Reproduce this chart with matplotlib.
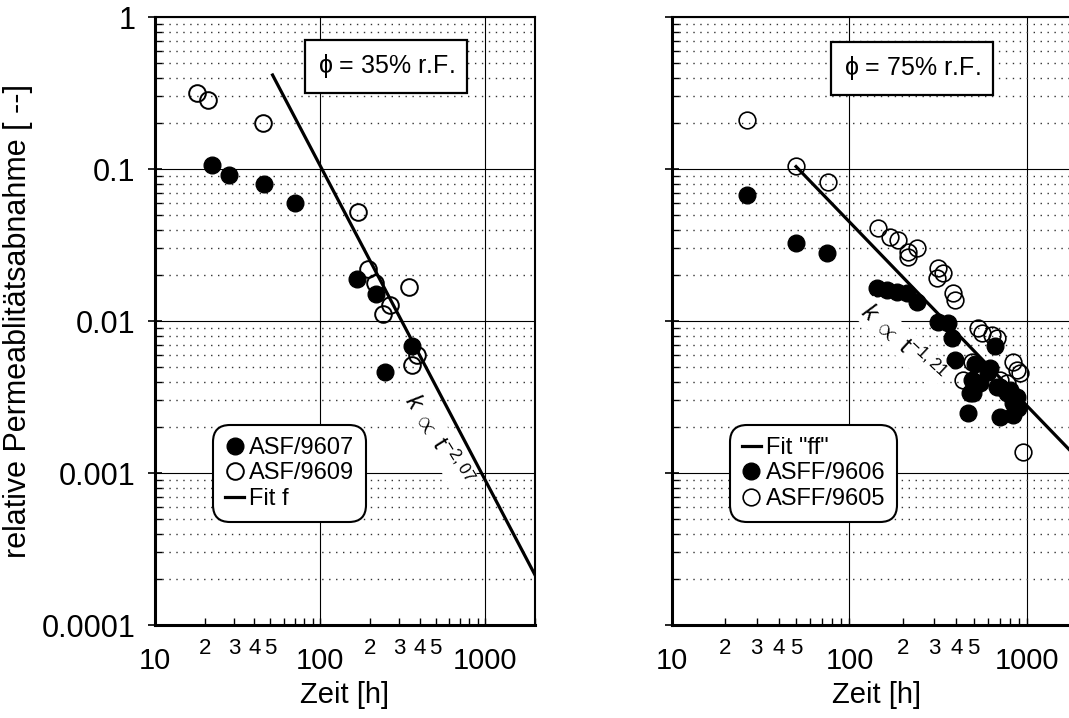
import numpy as np
import matplotlib
matplotlib.use("Agg")
import matplotlib.pyplot as plt
from matplotlib.lines import Line2D

plt.rcParams['font.family'] = ['Liberation Sans', 'DejaVu Sans']
plt.rcParams['mathtext.fontset'] = 'custom'
plt.rcParams['mathtext.rm'] = 'Liberation Sans'
plt.rcParams['mathtext.it'] = 'Liberation Sans:italic'

# --- data (Zeit [h], relative Permeabilitaetsabnahme) ---
asf9607_t = [22, 28, 46, 70, 166, 219, 247, 359]
asf9607_k = [0.106, 0.092, 0.080, 0.060, 0.019, 0.015, 0.0046, 0.0069]

asf9609_t = [18, 21, 45, 170, 195, 214, 241, 265, 343, 359, 385]
asf9609_k = [0.315, 0.284, 0.200, 0.052, 0.022, 0.0178, 0.0112, 0.0127, 0.0168, 0.0051, 0.0060]

asff9606_t = [26.5, 50, 74.5, 142, 162, 185, 210, 239, 317, 360, 377, 393, 466, 478,
              488, 497, 509, 544, 605, 620, 660, 674, 705, 705, 769, 802, 837, 837, 873, 890]
asff9606_k = [0.0675, 0.0324, 0.0281, 0.0164, 0.0160, 0.0156, 0.0152, 0.0134, 0.0099, 0.0097,
              0.0077, 0.0055, 0.00247, 0.00334, 0.0041, 0.00334, 0.00525, 0.0039, 0.00464,
              0.00489, 0.0069, 0.0037, 0.0037, 0.00235, 0.00334, 0.0035, 0.0024, 0.00287,
              0.00317, 0.00268]

asff9605_t = [26.5, 50, 76, 145, 169, 188, 214, 239, 214, 317, 338, 310, 385, 393, 437,
              488, 532, 556, 632, 674, 705, 769, 837, 873, 914, 953]
asff9605_k = [0.21, 0.104, 0.0825, 0.0407, 0.0359, 0.0341, 0.0286, 0.0302, 0.0265, 0.0222,
              0.0206, 0.0191, 0.0152, 0.0137, 0.0041, 0.0054, 0.0090, 0.0083, 0.0081, 0.0077,
              0.0041, 0.00389, 0.0054, 0.00475, 0.00452, 0.00138]

# power-law fits k = c * t^n
fit_f_c, fit_f_n, fit_f_t = 1452.0, -2.07, [51.5, 2000]
fit_ff_c, fit_ff_n, fit_ff_t = 11.8, -1.21, [50, 2000]

major_x = [10, 100, 1000]
major_x_lbl = ['10', '100', '1000']
minor_x = [20, 30, 40, 50, 60, 70, 80, 90, 200, 300, 400, 500, 600, 700, 800, 900, 2000]
minor_x_lbl = ['2', '3', '4', '5', '', '', '', '', '2', '3', '4', '5', '', '', '', '', '']
major_y = [1e-4, 1e-3, 1e-2, 1e-1, 1]
major_y_lbl = ['0.0001', '0.001', '0.01', '0.1', '1']


def style_axes(ax, show_ylabels):
    ax.set_xscale('log')
    ax.set_yscale('log')
    ax.set_xlim(10, 2000)
    ax.set_ylim(1e-4, 1)
    ax.set_xticks(major_x, labels=major_x_lbl)
    ax.set_xticks(minor_x, labels=minor_x_lbl, minor=True)
    ax.set_yticks(major_y, labels=major_y_lbl if show_ylabels else [''] * len(major_y))
    ax.set_yticks([m * 10.0 ** e for e in range(-4, 0) for m in range(2, 10)], minor=True)
    ax.yaxis.set_minor_formatter(matplotlib.ticker.NullFormatter())
    ax.tick_params(axis='x', which='major', direction='in', length=5, width=1,
                   labelsize=21, pad=16)
    ax.tick_params(axis='x', which='minor', direction='in', length=5, width=1,
                   labelsize=16, pad=9)
    ax.tick_params(axis='y', which='major', direction='inout', length=10, width=1.2,
                   labelsize=22, pad=9)
    ax.tick_params(axis='y', which='minor', direction='in', length=5, width=1)
    ax.grid(True, which='major', color='black', lw=0.8)
    ax.yaxis.grid(True, which='minor', color='0.2', lw=1.0, linestyle=(0, (1, 4)))
    ax.set_axisbelow(True)
    for side in ['left', 'bottom']:
        ax.spines[side].set_linewidth(2.2)
    for side in ['top', 'right']:
        ax.spines[side].set_linewidth(1.5)
    ax.set_xlabel('Zeit [h]', fontsize=21, labelpad=4)


def fit_line(c, n, t):
    t = np.array(t, dtype=float)
    return t, c * t ** n


fig = plt.figure(figsize=(10.69, 7.18), dpi=100)
ax1 = fig.add_axes([0.145, 0.1295, 0.3555, 0.8468])
ax2 = fig.add_axes([0.6286, 0.1295, 0.3821, 0.8468])

ms = 12
box = dict(facecolor='white', edgecolor='none', pad=1)
phi_box = dict(boxstyle='square,pad=0.5', facecolor='white', edgecolor='black', lw=1.6)

# left panel
style_axes(ax1, True)
ax1.plot(asf9609_t, asf9609_k, 'o', ms=ms, mfc='none', mec='black', mew=1.4, zorder=3)
ax1.plot(asf9607_t, asf9607_k, 'o', ms=ms, mfc='black', mec='black', zorder=4)
ft, fk = fit_line(fit_f_c, fit_f_n, fit_f_t)
ax1.plot(ft, fk, color='black', lw=2.3, zorder=5)
ax1.text(0.608, 0.919, r'$\mathregular{\phi}$ = 35% r.F.', transform=ax1.transAxes,
         fontsize=18, ha='center', va='center', bbox=phi_box)
ax1.text(520, 0.00165, r'$k\ \propto\ \mathregular{t}^{\mathregular{-2,07}}$', fontsize=17,
         rotation=-58, ha='center', va='center', rotation_mode='anchor', bbox=box, zorder=4)
h1 = [Line2D([], [], ls='none', marker='o', ms=ms, mfc='black', mec='black'),
      Line2D([], [], ls='none', marker='o', ms=ms, mfc='none', mec='black', mew=1.4),
      Line2D([], [], color='black', lw=2.3)]
leg1 = ax1.legend(h1, ['ASF/9607', 'ASF/9609', 'Fit f'], loc='upper left',
                  bbox_to_anchor=(0.166, 0.321), fontsize=17, handlelength=0.8,
                  handletextpad=0.2, labelspacing=0.15, borderpad=0.3, borderaxespad=0,
                  framealpha=1, edgecolor='black', fancybox=True)
leg1.get_frame().set_linewidth(1.5)
leg1.get_frame().set_boxstyle('round,pad=0.2,rounding_size=0.7')
ax1.set_ylabel('relative Permeablitätsabnahme [ --]', fontsize=22, labelpad=6)

# right panel
style_axes(ax2, False)
ax2.plot(asff9605_t, asff9605_k, 'o', ms=ms, mfc='none', mec='black', mew=1.2, zorder=3)
ax2.plot(asff9606_t, asff9606_k, 'o', ms=ms, mfc='black', mec='black', zorder=4)
ft, fk = fit_line(fit_ff_c, fit_ff_n, fit_ff_t)
ax2.plot(ft, fk, color='black', lw=2.3, zorder=5)
ax2.text(0.5875, 0.916, r'$\mathregular{\phi}$ = 75% r.F.', transform=ax2.transAxes,
         fontsize=18, ha='center', va='center', bbox=phi_box)
ax2.text(200, 0.0072, r'$k\ \propto\ \mathregular{t}^{\mathregular{-1,21}}$', fontsize=17,
         rotation=-43, ha='center', va='center', rotation_mode='anchor', bbox=box, zorder=4)
h2 = [Line2D([], [], color='black', lw=2.3),
      Line2D([], [], ls='none', marker='o', ms=ms, mfc='black', mec='black'),
      Line2D([], [], ls='none', marker='o', ms=ms, mfc='none', mec='black', mew=1.2)]
leg2 = ax2.legend(h2, ['Fit "ff"', 'ASFF/9606', 'ASFF/9605'], loc='upper left',
                  bbox_to_anchor=(0.154, 0.321), fontsize=17, handlelength=0.8,
                  handletextpad=0.2, labelspacing=0.15, borderpad=0.3, borderaxespad=0,
                  framealpha=1, edgecolor='black', fancybox=True)
leg2.get_frame().set_linewidth(1.5)
leg2.get_frame().set_boxstyle('round,pad=0.2,rounding_size=0.7')

fig.savefig('out.png', dpi=100)
